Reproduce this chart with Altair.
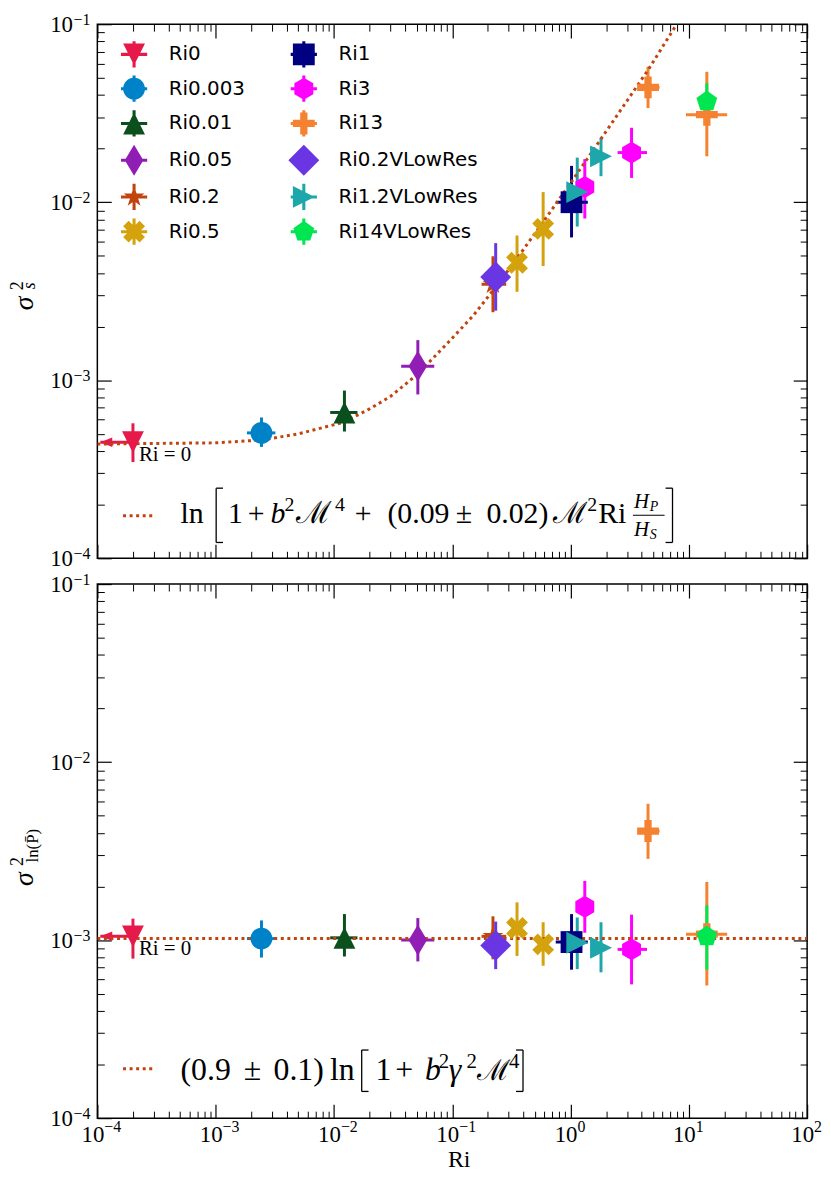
import altair as alt
import pandas as pd

# ---------------- data ----------------
series = ["Ri0", "Ri0.003", "Ri0.01", "Ri0.05", "Ri0.2", "Ri0.5",
          "Ri1", "Ri3", "Ri13", "Ri0.2VLowRes", "Ri1.2VLowRes", "Ri14VLowRes"]
series_colors = ["#e6194b", "#0082c8", "#0b4f1c", "#911eb4", "#c1440e", "#d4a20c",
                 "#000080", "#ff00ff", "#f58231", "#6a35e2", "#1ea7aa", "#00e650"]

pt_series = ["Ri0", "Ri0.003", "Ri0.01", "Ri0.05", "Ri0.2", "Ri0.5", "Ri0.5", "Ri1",
             "Ri3", "Ri3", "Ri13", "Ri13", "Ri0.2VLowRes", "Ri1.2VLowRes", "Ri1.2VLowRes",
             "Ri14VLowRes"]
ri = [2.0e-4, 2.44e-3, 0.01227, 0.0512, 0.221, 0.353, 0.587, 1.02,
      1.32, 3.28, 4.52, 14.2, 0.233, 1.14, 1.81, 14.2]
ri_lo = [1.06e-4, 1.84e-3, 0.0093, 0.037, 0.177, 0.32, 0.53, 0.75,
         1.2, 2.5, 3.71, 9.46, 0.21, 1.05, 1.65, 12.5]
ri_hi = [2.0e-4, 3.2e-3, 0.0158, 0.0705, 0.286, 0.39, 0.65, 1.4,
         1.45, 4.43, 5.66, 21.1, 0.26, 1.25, 1.95, 16.0]
s2 = [4.49e-4, 5.06e-4, 6.59e-4, 1.2e-3, 3.46e-3, 4.57e-3, 7.08e-3, 1.0e-2,
      1.217e-2, 1.9e-2, 4.42e-2, 3.1e-2, 3.8e-3, 1.14e-2, 1.81e-2, 3.68e-2]
s2_lo = [3.47e-4, 4.22e-4, 5.15e-4, 8.32e-4, 2.41e-3, 3.14e-3, 4.38e-3, 6.34e-3,
         8.1e-3, 1.37e-2, 3.38e-2, 1.81e-2, 2.46e-3, 7.3e-3, 1.4e-2, 3.18e-2]
s2_hi = [5.73e-4, 6.18e-4, 8.75e-4, 1.68e-3, 4.97e-3, 6.5e-3, 1.14e-2, 1.6e-2,
         1.746e-2, 2.62e-2, 5.77e-2, 5.4e-2, 5.89e-3, 1.78e-2, 2.3e-2, 4.66e-2]
lnp = [1.05e-3, 1.02e-3, 1.03e-3, 1.0e-3, 1.05e-3, 1.17e-3, 9.46e-4, 9.75e-4,
       1.54e-3, 8.87e-4, 4.1e-3, 1.08e-3, 9.34e-4, 9.66e-4, 9.06e-4, 1.05e-3]
lnp_lo = [7.87e-4, 7.98e-4, 8.09e-4, 7.59e-4, 7.8e-4, 8.15e-4, 7.18e-4, 6.82e-4,
          1.1e-3, 5.64e-4, 2.86e-3, 5.56e-4, 6.87e-4, 6.87e-4, 6.59e-4, 6.82e-4]
lnp_hi = [1.32e-3, 1.29e-3, 1.4e-3, 1.33e-3, 1.36e-3, 1.63e-3, 1.26e-3, 1.4e-3,
          2.15e-3, 1.39e-3, 5.83e-3, 2.12e-3, 1.27e-3, 1.34e-3, 1.26e-3, 1.57e-3]

fit_ri = [1e-4, 1e-3, 2.5e-3, 5e-3, 0.012, 0.02, 0.03, 0.05, 0.09, 0.15, 0.23,
          0.35, 0.6, 1.0, 2.0, 4.5, 7.9]
fit_s2 = [4.38e-4, 4.45e-4, 4.62e-4, 5.0e-4, 5.8e-4, 6.9e-4, 8.1e-4, 1.07e-3, 1.6e-3,
          2.3e-3, 3.3e-3, 4.8e-3, 7.9e-3, 1.28e-2, 2.5e-2, 5.5e-2, 1.0e-1]
fit_ln_ri = [1e-4, 1e2]
fit_ln = [1.02e-3, 1.02e-3]

x_major = [1e-4, 1e-3, 1e-2, 1e-1, 1.0, 10.0, 100.0]
x_minor = [m * 10.0 ** e for e in range(-4, 2) for m in range(2, 10)]
y_major = [1e-4, 1e-3, 1e-2, 1e-1]
y_minor = [m * 10.0 ** e for e in range(-4, -1) for m in range(2, 10)]

# ---------------- styles / layout ----------------
SERIF = "Liberation Serif"
SANS = "DejaVu Sans"
FIT_COLOR = "#c1440e"
W, H = 715, 538
REF_W, REF_H = 717, 541
REF_LEFT = 97
REF_TOP = {True: 10, False: 577}


def px(page_x):
    """reference page x -> pixel inside the plot area"""
    return round((page_x - REF_LEFT) * W / REF_W, 1)


def py(page_y, top):
    return round((page_y - REF_TOP[top]) * H / REF_H, 1)


markers = {
    "Ri0": "M-1,-1L1,-1L0,1Z",
    "Ri0.003": "M1,0A1,1,0,1,1,-1,0A1,1,0,1,1,1,0Z",
    "Ri0.01": "M0,-1L1,1L-1,1Z",
    "Ri0.05": "M0,-1.414L0.849,0L0,1.414L-0.849,0Z",
    "Ri0.2": ("M0,-1L0.2245,-0.309L0.951,-0.309L0.3633,0.118L0.588,0.809L0,0.382"
              "L-0.588,0.809L-0.3633,0.118L-0.951,-0.309L-0.2245,-0.309Z"),
    "Ri0.5": ("M-0.5,-1L0,-0.5L0.5,-1L1,-0.5L0.5,0L1,0.5L0.5,1L0,0.5L-0.5,1"
              "L-1,0.5L-0.5,0L-1,-0.5Z"),
    "Ri1": "M-1,-1L1,-1L1,1L-1,1Z",
    "Ri3": "M0,-1L0.866,-0.5L0.866,0.5L0,1L-0.866,0.5L-0.866,-0.5Z",
    "Ri13": ("M-0.333,-1L0.333,-1L0.333,-0.333L1,-0.333L1,0.333L0.333,0.333L0.333,1"
             "L-0.333,1L-0.333,0.333L-1,0.333L-1,-0.333L-0.333,-0.333Z"),
    "Ri0.2VLowRes": "M0,-1.414L1.414,0L0,1.414L-1.414,0Z",
    "Ri1.2VLowRes": "M1,0L-1,1L-1,-1Z",
    "Ri14VLowRes": "M0,-1L0.951,-0.309L0.588,0.809L-0.588,0.809L-0.951,-0.309Z",
}
BARS = "M-0.14,-1.2L0.14,-1.2L0.14,1.2L-0.14,1.2ZM-1.2,-0.14L1.2,-0.14L1.2,0.14L-1.2,0.14Z"
ARROW = "M0,0L2,-0.8L2,0.8Z"
color_of = dict(zip(series, series_colors))

pts = pd.DataFrame({"series": pt_series, "ri": ri, "ri_lo": ri_lo, "ri_hi": ri_hi,
                    "s2": s2, "s2_lo": s2_lo, "s2_hi": s2_hi,
                    "lnp": lnp, "lnp_lo": lnp_lo, "lnp_hi": lnp_hi})
fit_top = pd.DataFrame({"ri": fit_ri, "y": fit_s2})
fit_bot = pd.DataFrame({"ri": fit_ln_ri, "y": fit_ln})


def xs():
    return alt.Scale(type="log", domain=[1e-4, 1e2], nice=False)


def ys():
    return alt.Scale(type="log", domain=[1e-4, 1e-1], nice=False)


def cscale():
    return alt.Scale(domain=series, range=series_colors)


def sscale():
    return alt.Scale(domain=series, range=[markers[s] for s in series])


EXP = "replace(format(round(log(datum.value)/LN10),'d'),'-','\u2212')"


def axis(orient, kind, labels=None, title=None, **extra):
    """kind: 'minor' (short ticks), 'major' (long ticks), 'ten' / 'exp' (labels only)."""
    d = dict(orient=orient, domain=False, grid=False, tickColor="black",
             labelOverlap=False, labelFlush=False, labelBound=False,
             labelColor="black", labelFont=SERIF, title=title)
    horizontal = orient in ("top", "bottom")
    if kind == "minor":
        d.update(values=x_minor if horizontal else y_minor, tickSize=7, offset=-7,
                 tickWidth=1, labels=False)
    else:
        d.update(values=x_major if horizontal else y_major, tickSize=14, offset=-14,
                 tickWidth=1.2)
        if kind in ("ten", "exp"):
            d.update(tickOpacity=0)
        if labels is None:
            d.update(labels=False)
        elif labels == "ten":
            d.update(labelExpr="'10'", labelFontSize=23)
        else:
            d.update(labelExpr=EXP, labelFontSize=16)
    if title is not None:
        d.update(titleFont=SERIF, titleFontSize=24, titleFontWeight="normal",
                 titleColor="black", titlePadding=1)
    d.update(extra)
    return alt.Axis(**d)


def text_layer(rows, italic=False, angle=None, baseline="alphabetic"):
    df = pd.DataFrame(rows, columns=["t", "px", "py", "fs"])
    kw = dict(align="left", baseline=baseline, font=SERIF, color="black")
    if italic:
        kw["fontStyle"] = "italic"
    if angle is not None:
        kw.update(angle=angle, align="center", baseline="middle")
    return alt.Chart(df).mark_text(**kw).encode(
        x=alt.X("px:Q", scale=None, axis=None),
        y=alt.Y("py:Q", scale=None, axis=None),
        text="t:N",
        size=alt.Size("fs:Q", scale=None, legend=None),
    )


def vrules(rows, width=1.3, color="black"):
    df = pd.DataFrame(rows, columns=["px", "py1", "py2"])
    return alt.Chart(df).mark_rule(color=color, strokeWidth=width).encode(
        x=alt.X("px:Q", scale=None, axis=None),
        y=alt.Y("py1:Q", scale=None, axis=None), y2="py2:Q")


def hrules(rows, width=1.3, color="black", dash=None):
    df = pd.DataFrame(rows, columns=["px1", "px2", "py"])
    kw = dict(color=color, strokeWidth=width)
    if dash:
        kw["strokeDash"] = dash
    return alt.Chart(df).mark_rule(**kw).encode(
        x=alt.X("px1:Q", scale=None, axis=None), x2="px2:Q",
        y=alt.Y("py:Q", scale=None, axis=None))


def bracket(x, x_tick, y1, y2, top):
    """square bracket drawn from thin rules (reference page coordinates)"""
    return [vrules([(px(x), py(y1, top), py(y2, top))]),
            hrules([(px(min(x, x_tick)), px(max(x, x_tick)), py(y1, top)),
                    (px(min(x, x_tick)), px(max(x, x_tick)), py(y2, top))])]


def panel(val, lo, hi, fit_df, top):
    base = alt.Chart(pts)
    vert = base.mark_rule(strokeWidth=3).encode(
        x=alt.X("ri:Q", scale=xs(), axis=axis("bottom", "major")),
        y=alt.Y(f"{lo}:Q", scale=ys(),
                axis=axis("left", "major", labels="ten", labelAlign="right",
                          labelBaseline="middle", labelPadding=25)),
        y2=f"{hi}:Q",
        color=alt.Color("series:N", scale=cscale(), legend=None),
    )
    horz = base.mark_rule(strokeWidth=3).encode(
        x=alt.X("ri_lo:Q", scale=xs(),
                axis=None if top else axis("bottom", "exp", labels="exp", labelAlign="left",
                                           labelBaseline="top", translate=7,
                                           labelPadding=-6)),
        x2="ri_hi:Q",
        y=alt.Y(f"{val}:Q", scale=ys(),
                axis=axis("left", "exp", labels="exp", labelAlign="right",
                          labelBaseline="middle", translate=-4, labelPadding=3)),
        color=alt.Color("series:N", scale=cscale(), legend=None),
    )
    arrow = base.transform_filter(alt.datum.series == "Ri0").mark_point(
        filled=True, opacity=1, size=144, shape=ARROW, color=color_of["Ri0"],
        strokeWidth=0).encode(
        x=alt.X("ri_lo:Q", scale=xs(), axis=axis("bottom", "minor")),
        y=alt.Y(f"{val}:Q", scale=ys(), axis=axis("left", "minor")),
    )
    fit = alt.Chart(fit_df).mark_line(strokeDash=[3, 3.6], strokeWidth=3,
                                      color=FIT_COLOR, clip=True).encode(
        x=alt.X("ri:Q", scale=xs(), axis=axis("top", "major")),
        y=alt.Y("y:Q", scale=ys(), axis=axis("right", "major")),
    )
    points = base.mark_point(filled=True, opacity=1, size=484, strokeWidth=0).encode(
        x=alt.X("ri:Q", scale=xs(), axis=axis("top", "minor")),
        y=alt.Y(f"{val}:Q", scale=ys(), axis=axis("right", "minor")),
        color=alt.Color("series:N", scale=cscale(), legend=None),
        shape=alt.Shape("series:N", scale=sscale(), legend=None),
    )
    ri0 = base.transform_filter(alt.datum.series == "Ri0").mark_text(
        text="Ri = 0", align="left", baseline="alphabetic", dx=6, dy=19,
        fontSize=21, font=SERIF, color="black").encode(
        x=alt.X("ri:Q", scale=xs(),
                axis=None if top else axis("bottom", "ten", labels="ten", title="Ri",
                                           labelAlign="right", labelBaseline="top",
                                           translate=7, labelPadding=-1)),
        y=alt.Y(f"{val}:Q", scale=ys(), axis=None),
    )
    layers = [vert, horz, arrow, fit, points, ri0]

    if top:
        leg = dict(orient="none", legendX=26, legendY=19, columns=2, title=None,
                   symbolSize=484, labelFont=SANS, labelFontSize=20, labelColor="black",
                   rowPadding=7, columnPadding=43, labelOffset=24, symbolStrokeWidth=0,
                   symbolOpacity=1, padding=0, labelLimit=400)
        legend_layer = base.transform_filter("false").mark_point(
            filled=True, opacity=1, size=484).encode(
            x=alt.X("ri:Q", scale=xs(), axis=None),
            y=alt.Y("s2:Q", scale=ys(), axis=None),
            color=alt.Color("series:N", scale=cscale(), legend=alt.Legend(**leg)),
            shape=alt.Shape("series:N", scale=alt.Scale(
                domain=series, range=[markers[s] + BARS for s in series]),
                legend=alt.Legend(**leg)),
        )
        layers.append(legend_layer)
        b, s = py(515, top), py(503, top)          # baseline, superscript baseline
        layers.append(text_layer([
            ("ln", px(181), b, 30), ("1", px(229), b, 30), ("+", px(249), b, 30),
            ("\u2133", px(298), b, 31), ("4", px(337), s, 20), ("+", px(357), b, 30),
            ("(0.09", px(390), b, 30), ("\u00b1", px(459), b, 30),
            ("0.02)", px(490), b, 30), ("\u2133", px(557), b, 30), ("2", px(592), s, 20),
            ("Ri", px(603), b, 30), ("2", px(286), s, 20)]))
        layers.append(text_layer([
            ("b", px(272), b, 30), ("H", px(639), py(500, top), 21),
            ("P", px(655), py(503, top), 14), ("H", px(639), py(528, top), 21),
            ("S", px(655), py(531, top), 14)], italic=True))
        layers.append(hrules([(px(638), px(670), py(507.5, top))], width=1.2))
        layers += bracket(217, 224, 480, 535, top)
        layers += bracket(678, 671, 480, 535, top)
        layers.append(text_layer([("\u03c3", -73, py(293, top), 28)], italic=True, angle=270))
        layers.append(text_layer([("2", -80, py(275, top), 18)], angle=270))
        layers.append(text_layer([("s", -68, py(275, top), 18)], italic=True, angle=270))
        sample_y = py(508, top)
    else:
        b, s = py(1079, top), py(1067, top)
        layers.append(text_layer([
            ("(0.9", px(181), b, 32), ("\u00b1", px(245), b, 32), ("0.1)", px(275), b, 32),
            ("ln", px(332), b, 32), ("1", px(378), b, 32), ("+", px(398), b, 32),
            ("\u2133", px(481), b, 29), ("4", px(513), s, 21),
            ("2", px(442), s, 21), ("2", px(470), s, 21)]))
        layers.append(text_layer([("b", px(428), b, 32), ("\u03b3", px(452), b, 32)],
                                 italic=True))
        layers += bracket(364, 371, 1049, 1091, top)
        layers += bracket(527, 520, 1049, 1091, top)
        layers.append(text_layer([("\u03c3", -73, py(876, top), 28)], italic=True, angle=270))
        layers.append(text_layer([("2", -80, py(858, top), 18)], angle=270))
        layers.append(text_layer([("ln(P\u0304)", -65, py(842, top), 17)], angle=270))
        sample_y = py(1068, top)

    layers.append(hrules([(px(123), px(155), sample_y)], width=3, color=FIT_COLOR,
                         dash=[3, 3.6]))

    return alt.layer(*layers).resolve_scale(
        color="independent", shape="independent").resolve_axis(
        x="independent", y="independent").properties(width=W, height=H)


top_panel = panel("s2", "s2_lo", "s2_hi", fit_top, True)
bottom_panel = panel("lnp", "lnp_lo", "lnp_hi", fit_bot, False)

# the translated label axes are not counted in Vega's bounds: leave room for them
chart = alt.vconcat(top_panel, bottom_panel, spacing=26, bounds="flush").resolve_scale(
    color="independent", shape="independent").properties(
    padding={"top": 0, "left": 0, "right": 7, "bottom": 8}).configure_view(
    stroke="black", strokeWidth=1.5)

chart.save("out.html", embed_options={"renderer": "svg", "actions": False})
